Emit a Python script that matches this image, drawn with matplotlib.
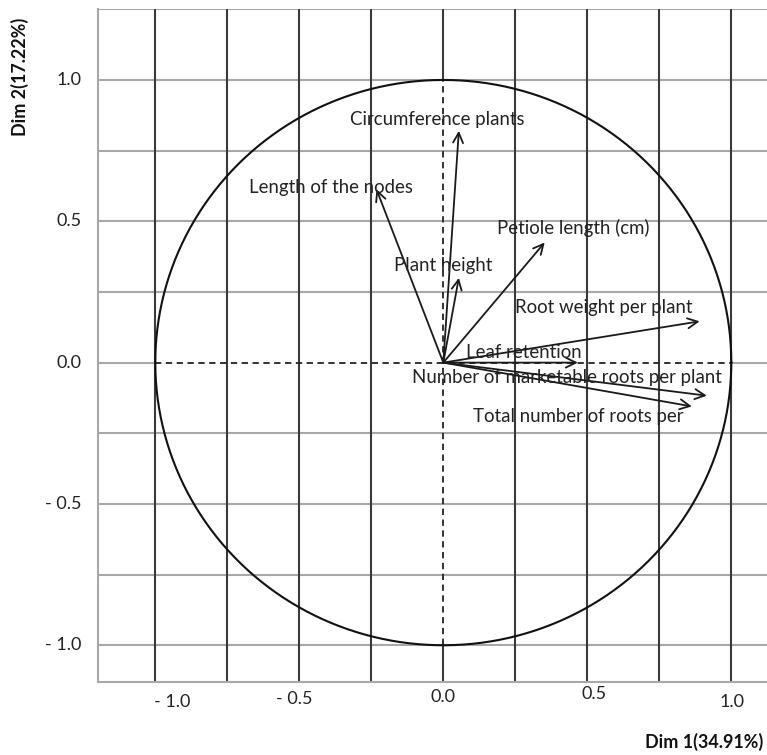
import matplotlib
matplotlib.use("Agg")
import matplotlib.pyplot as plt
import numpy as np

plt.rcParams['font.family'] = ['Lato', 'DejaVu Sans']

# Variable loadings on the first two dimensions
variables = [
    "Circumference plants",
    "Length of the nodes",
    "Petiole length (cm)",
    "Plant height",
    "Root weight per plant",
    "Leaf retention",
    "Number of marketable roots per plant",
    "Total number of roots per",
]
dim1 = [0.054, -0.232, 0.352, 0.054, 0.890, 0.467, 0.915, 0.863]
dim2 = [0.820, 0.613, 0.425, 0.300, 0.146, 0.000, -0.117, -0.155]

# Label anchor points (centre of each text)
label_x = [-0.02, -0.39, 0.45, 0.00, 0.557, 0.28, 0.43, 0.467]
label_y = [0.860, 0.620, 0.478, 0.345, 0.195, 0.035, -0.053, -0.190]

x_ticks = [-1.0, -0.5, 0.0, 0.5, 1.0]
x_tick_labels = ["- 1.0", "- 0.5", "0.0", "0.5", "1.0"]
y_ticks = [1.0, 0.5, 0.0, -0.5, -1.0]
y_tick_labels = ["1.0", "0.5", "0.0", "- 0.5", "- 1.0"]

x_label = "Dim 1(34.91%)"
y_label = "Dim 2(17.22%)"

W, H = 767, 755
fig = plt.figure(figsize=(W / 100, H / 100), dpi=100)
ax = fig.add_axes([97.7 / W, (H - 682) / H, 2.4 * 288 / W, 672.7 / H])
ax.set_xlim(-1.2, 1.2)
ax.set_ylim(-1.13, 1.25)
ax.set_xticks([])
ax.set_yticks([])
for side in ["top", "right"]:
    ax.spines[side].set_visible(False)
for side in ["left", "bottom"]:
    ax.spines[side].set_color("#a8a8a8")
    ax.spines[side].set_linewidth(1.5)

grid_gray = "#a8a8a8"
grid_dark = "#3a3a3a"

# Horizontal grid (light)
for yv in np.arange(-1.0, 1.26, 0.25):
    if abs(yv) < 1e-9:
        ax.plot([-1.2, -1.0], [0, 0], color=grid_gray, lw=1.5, zorder=1)
        ax.plot([1.0, 1.2], [0, 0], color=grid_gray, lw=1.5, zorder=1)
    else:
        ax.axhline(yv, color=grid_gray, lw=1.5, zorder=1)

# Vertical grid (dark)
for xv in np.arange(-1.0, 1.01, 0.25):
    if abs(xv) < 1e-9:
        ax.plot([0, 0], [1.0, 1.25], color=grid_dark, lw=1.5, zorder=1)
        ax.plot([0, 0], [-1.13, -1.0], color=grid_dark, lw=1.5, zorder=1)
    else:
        ax.axvline(xv, color=grid_dark, lw=1.5, zorder=1)

# Dashed axes inside the correlation circle
ax.plot([-1, 1], [0, 0], color="#222222", lw=1.3, ls=(0, (3.5, 2.5)), zorder=2)
ax.plot([0, 0], [-1, 1], color="#222222", lw=1.3, ls=(0, (3.5, 2.5)), zorder=2)

# Unit circle
t = np.linspace(0, 2 * np.pi, 600)
ax.plot(np.cos(t), np.sin(t), color="#111111", lw=1.5, zorder=3)

# Loading arrows and labels
for name, x, y, lx, ly in zip(variables, dim1, dim2, label_x, label_y):
    ax.annotate("", xy=(x, y), xytext=(0, 0),
                arrowprops=dict(arrowstyle="->", color="#1a1a1a", lw=1.3,
                                shrinkA=0, shrinkB=0, mutation_scale=18),
                zorder=4)
    ax.text(lx, ly, name, ha="center", va="center", fontsize=13.4,
            color="#222222", zorder=5)

# Tick labels
x_tick_pos_x = [-0.943, -0.519, 0.0, 0.523, 1.002]
x_tick_pos_y = [-1.202, -1.191, -1.184, -1.174, -1.199]
for xv, lab, px, py in zip(x_ticks, x_tick_labels, x_tick_pos_x, x_tick_pos_y):
    ax.text(px, py, lab, ha="center", va="center", fontsize=13,
            color="#222222", clip_on=False)
for yv, lab in zip(y_ticks, y_tick_labels):
    ax.text(-1.2 - 16 / 288, yv, lab, ha="right", va="center", fontsize=13,
            color="#222222", clip_on=False)

# Axis titles
fig.text(704 / W, 1 - 742 / H, x_label, ha="center", va="center",
         fontsize=12.9, fontweight="bold", color="#111111")
fig.text(20 / W, 1 - 77 / H, y_label, ha="center", va="center",
         rotation=90, fontsize=12.9, fontweight="bold", color="#111111")

fig.savefig("out.png", dpi=100)
